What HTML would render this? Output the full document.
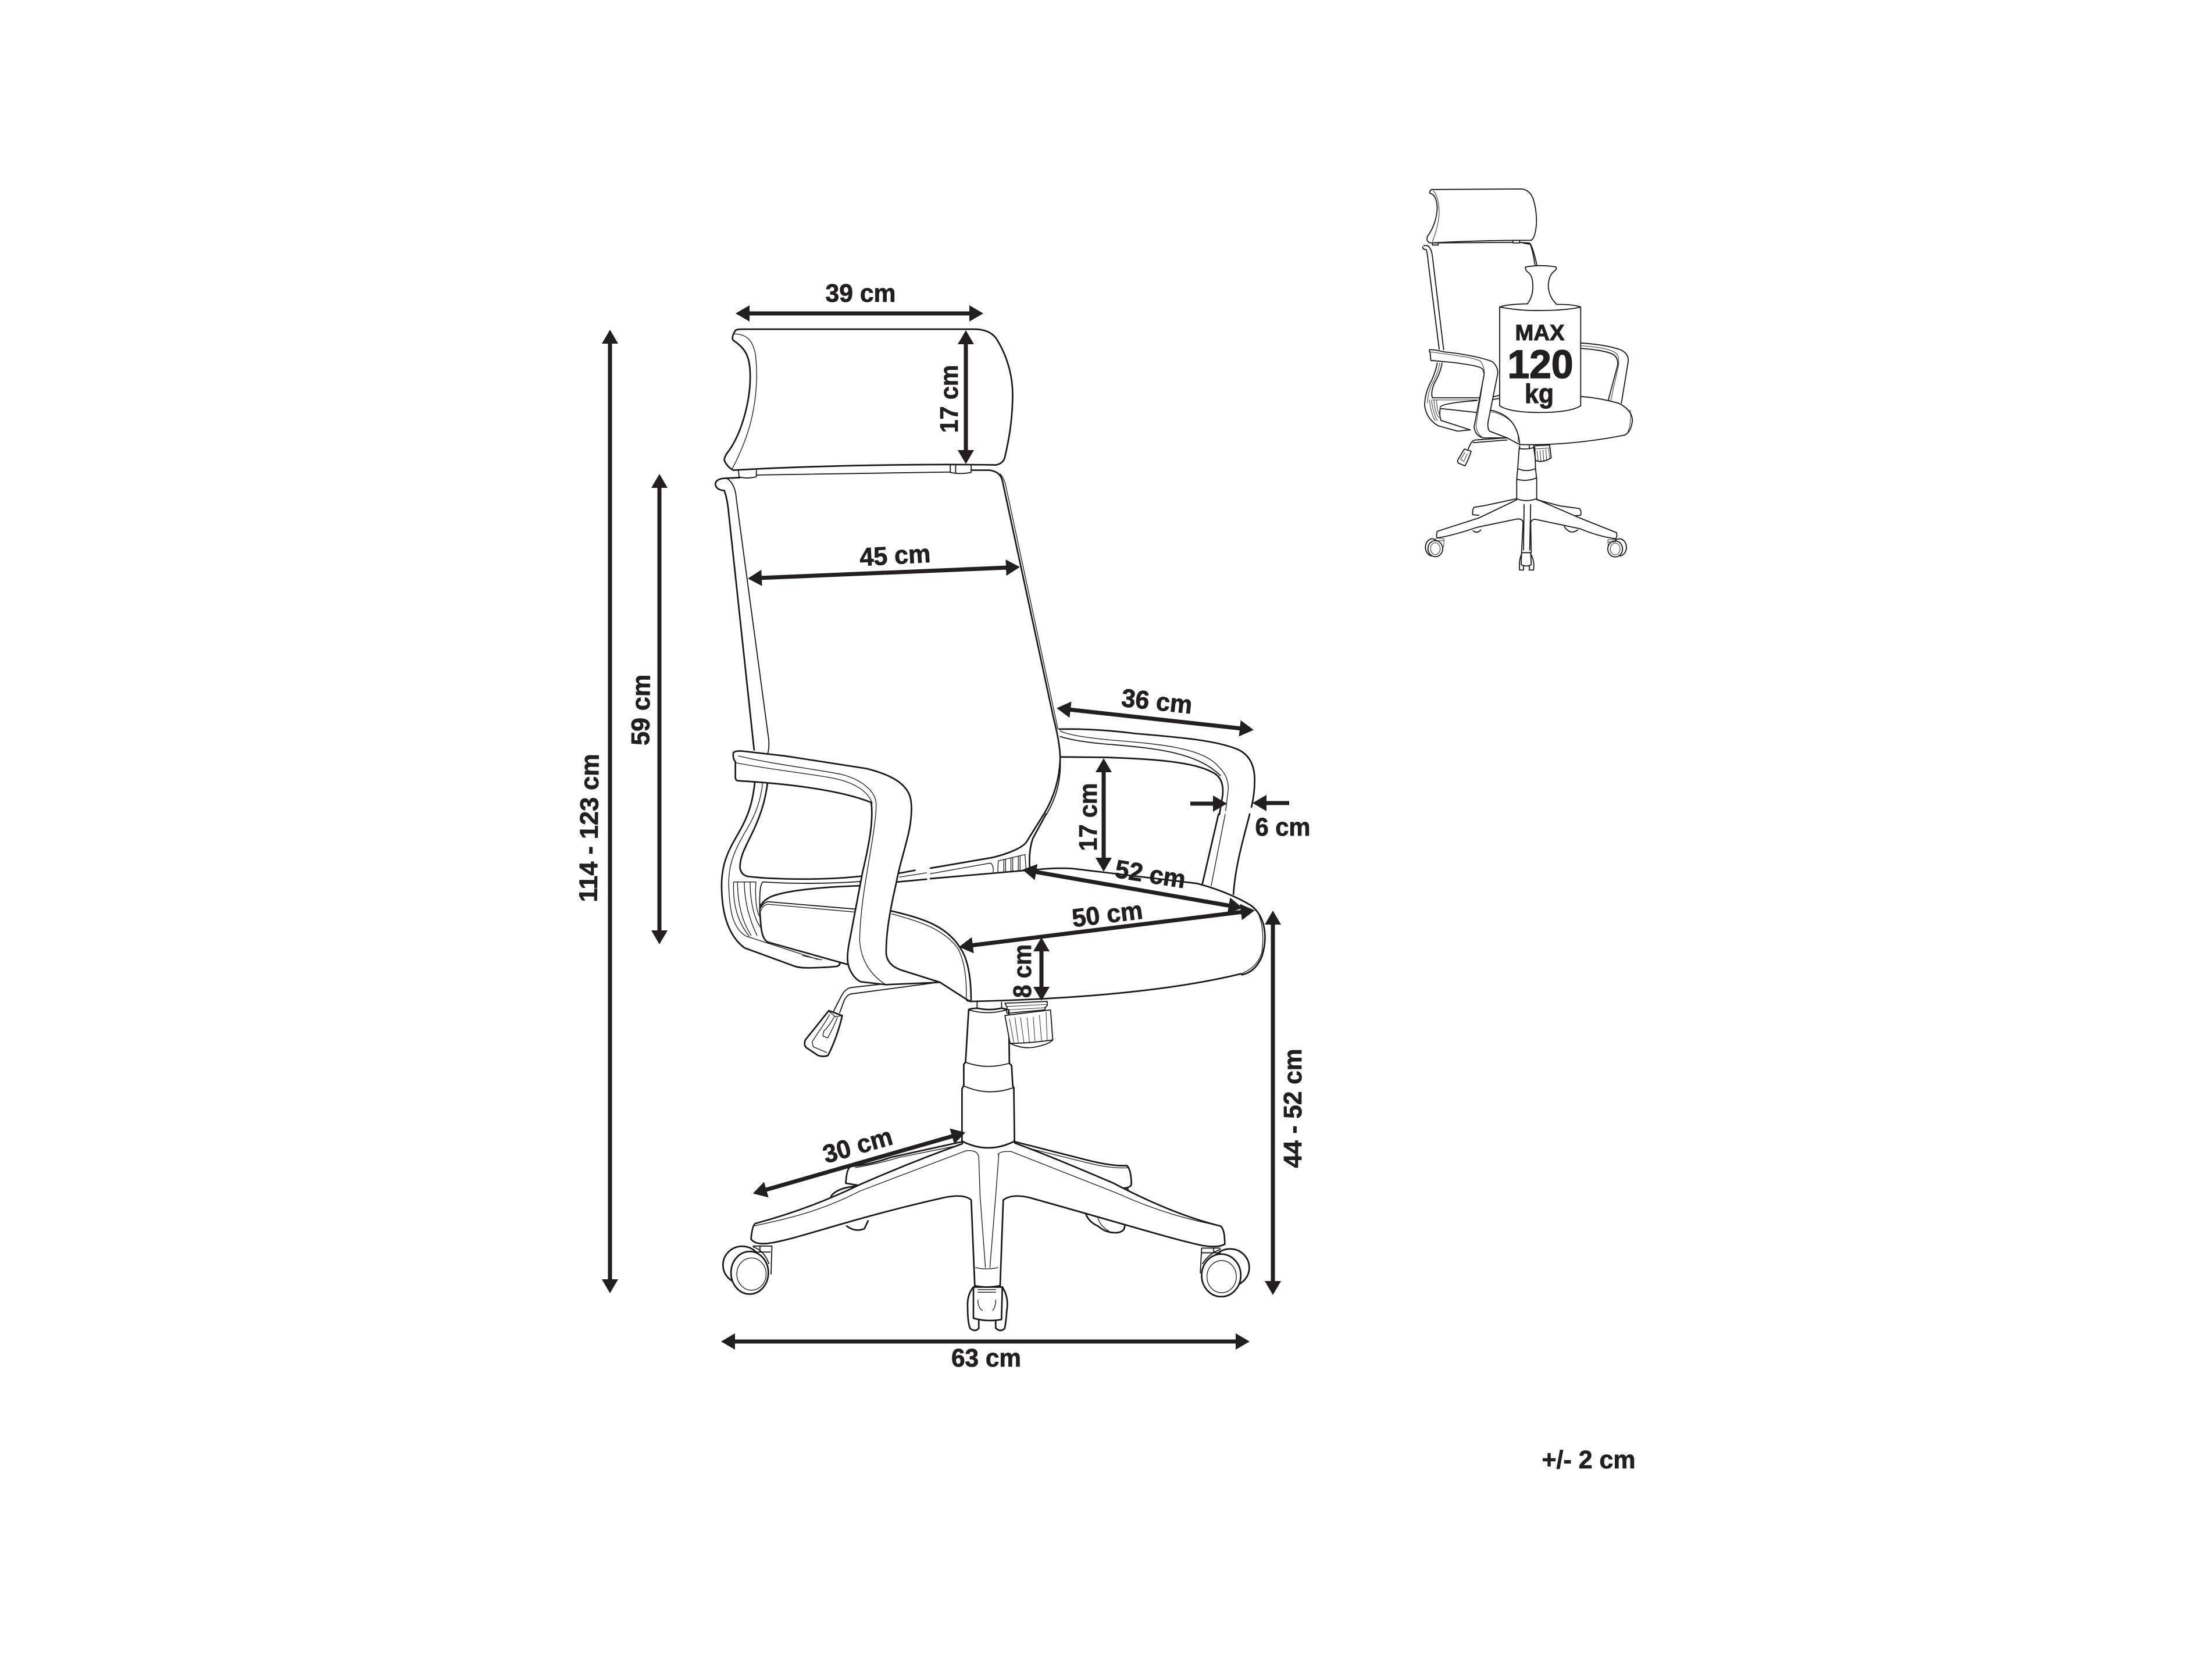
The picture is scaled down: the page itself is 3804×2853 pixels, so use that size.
<!DOCTYPE html>
<html><head><meta charset="utf-8"><style>
html,body{margin:0;padding:0;background:#fff;width:3804px;height:2853px;overflow:hidden}
svg{display:block}
path,ellipse,line{vector-effect:non-scaling-stroke}
.t{fill:none;stroke:#1a1718;stroke-width:2.7;stroke-linejoin:round;stroke-linecap:round}
.w{fill:#fff;stroke:#1a1718;stroke-width:2.7;stroke-linejoin:round;stroke-linecap:round}
.n{fill:none;stroke:#1a1718;stroke-width:1.3;stroke-linejoin:round;stroke-linecap:round}
.s{fill:none;stroke:#1a1718;stroke-width:1.8;stroke-linejoin:round;stroke-linecap:round}
.ws{fill:#fff;stroke:#1a1718;stroke-width:1.8;stroke-linejoin:round;stroke-linecap:round}
.sn{fill:none;stroke:#1a1718;stroke-width:.9;stroke-linejoin:round;stroke-linecap:round}
text{font-family:"Liberation Sans",sans-serif;font-weight:bold;fill:#231f20;stroke:#231f20;stroke-width:.8;text-anchor:middle;font-size:44px}
.a{stroke:#231f20;stroke-width:7;fill:none;marker-end:url(#h);marker-start:url(#h)}
.b{stroke:#231f20;stroke-width:7;fill:none;marker-end:url(#h)}
</style></head><body>
<svg width="3804" height="2853" viewBox="0 0 3804 2853" xmlns="http://www.w3.org/2000/svg">
<defs><marker id="h" viewBox="0 0 24 28" refX="4" refY="14" markerWidth="24" markerHeight="28" orient="auto-start-reverse" markerUnits="userSpaceOnUse"><path d="M0 0L24 14L0 28z" fill="#231f20"/></marker></defs>

<!-- base (zoom3 space) -->
<g transform="translate(1150,1700) scale(.765,.4464)">
  <!-- back casters -->
  <path class="t" d="M365 800Q375 775 405 765L425 760"/>
  <path class="t" d="M400 915Q420 940 440 925L448 895"/>
  <path class="t" d="M938 870Q945 900 965 915Q985 945 1010 940Q1025 935 1025 915"/>
  <path class="n" d="M965 885Q970 915 990 935"/>
  <path class="t" d="M1030 765L1036 790"/>
  <!-- back legs -->
  <path class="w" d="M778 590L950 665Q1000 685 1030 682Q1040 700 1040 755Q1038 770 1010 770L778 640Z"/>
  <path class="n" d="M785 605L950 675Q1000 695 1035 690"/>
  <path class="w" d="M660 590L500 650Q450 680 410 685Q400 690 398 750L440 762L660 640Z"/>
  <path class="n" d="M650 605L520 650Q470 675 420 690"/>
  <!-- casters -->
  <ellipse class="w" cx="165" cy="1065" rx="43" ry="72"/>
  <ellipse class="w" cx="182" cy="1095" rx="42" ry="82"/>
  <ellipse class="n" cx="186" cy="1100" rx="33" ry="62"/>
  <path class="s" d="M190 992L232 992L230 1100M195 1015L228 1015M205 992V1015M190 995Q215 1010 225 1060"/>
  <ellipse class="w" cx="1262" cy="1075" rx="43" ry="72"/>
  <ellipse class="w" cx="1242" cy="1105" rx="44" ry="82"/>
  <ellipse class="n" cx="1243" cy="1110" rx="33" ry="62"/>
  <path class="s" d="M1198 1000L1240 1000M1198 1000L1195 1095M1198 1018L1240 1018M1225 1000V1018M1240 1005Q1215 1020 1200 1060"/>
  <!-- front caster -->
  <path class="t" d="M685 1150Q670 1180 672 1230Q672 1290 678 1310Q690 1325 697 1308L697 1280"/>
  <path class="t" d="M750 1150Q765 1190 760 1240Q758 1290 755 1310Q745 1325 735 1308L735 1280"/>
  <path class="w" d="M685 1150L685 1270Q715 1285 748 1275L750 1150Z"/>
  <path class="n" d="M695 1160H735M695 1170H735M695 1200Q695 1230 705 1240M735 1200Q735 1230 728 1240"/>
  <!-- front arms -->
  <path fill="#fff" d="M660 598Q550 665 430 755C340 830 260 875 195 905Q188 910 185 965Q195 990 230 980C300 960 400 890 620 805Q665 790 680 815L688 1145Q715 1155 745 1145L752 815Q770 790 810 805C1010 900 1130 965 1200 990Q1235 1000 1250 985Q1250 925 1240 915C1180 890 1100 840 1000 750Q850 640 778 595Z"/>
  <path class="t" d="M660 598Q550 665 430 755C340 830 260 875 195 905Q188 910 185 965Q195 990 230 980C300 960 400 890 620 805Q665 790 680 815L688 1145Q715 1155 745 1145L752 815Q770 790 810 805C1010 900 1130 965 1200 990Q1235 1000 1250 985Q1250 925 1240 915C1180 890 1100 840 1000 750Q850 640 778 595"/>
  <path class="n" d="M668 625L430 780C340 860 260 890 190 915"/>
  <path class="n" d="M668 625Q695 620 697 650L700 800L712 1075"/>
  <path class="n" d="M740 640Q745 625 770 628L1010 790C1100 860 1170 890 1240 915"/>
  <path class="n" d="M742 640L735 800L722 1075"/>
  <path class="n" d="M690 1075Q715 1085 740 1075"/>
</g>

<!-- column & seat right (zoom9 space) -->
<g transform="translate(1600,1400) scale(.38265)">
  <path class="w" d="M172 880Q170 875 210 872Q265 885 320 872L352 880L355 1120L365 1130L370 1220L375 1230L378 1470Q260 1530 142 1470L142 1235L150 1220V1125L158 1115Z"/>
  <path class="s" d="M158 1115Q250 1150 355 1120M150 1222Q260 1270 372 1230M172 880Q260 905 340 880"/>
  <path class="s" d="M210 845V875M320 845V872"/>
  <!-- knob -->
  <path class="ws" d="M335 905L540 880L550 1015Q450 1030 358 1030Z"/>
  <path class="s" d="M358 1030Q420 1060 480 1045Q530 1035 550 1015"/>
  <path class="sn" d="M355 920L375 1025M380 915L395 1025M405 915L420 1025M435 915L445 1025M462 912L470 1020M490 905L500 1020M520 890L525 1018"/>
  <path class="s" d="M335 850L525 842V860L515 870V880L345 895L340 880L345 870Z"/>
  <path class="sn" d="M340 865L525 855M345 880L520 870"/>
  <!-- seat -->
  <path fill="#fff" d="M405 255L470 250Q570 240 640 245L1200 312Q1340 350 1440 410Q1480 440 1495 490Q1515 560 1490 640Q1460 710 1400 722L1395 718C1100 790 700 830 180 842L165 838L60 765Q30 745 -50 700L-200 250Z"/>
  <path class="t" d="M405 255L470 250Q570 240 640 245L1200 312Q1340 350 1440 410Q1480 440 1495 490Q1515 560 1490 640Q1460 710 1400 722L1395 718C1100 790 700 830 180 842L165 838"/>
  <path class="n" d="M1465 430Q1505 500 1490 620Q1470 690 1395 718"/>
  <!-- back lower right -->
  <path class="t" d="M0 243L280 195C350 178 420 150 435 120L510 0M447 250Q440 170 460 110L520 0"/>
  <path class="t" d="M405 255L0 290"/>
  <path class="n" d="M0 268L270 220Q285 230 282 260"/>
  <path class="n" d="M303 260L305 210L425 182L430 250M330 258V205M338 258V203M362 258V198M370 258V196M395 255V190M403 255V188"/>
  <!-- right arm lower -->
  <path class="t" d="M1295 0L1222 315M1435 0C1410 100 1370 230 1362 360"/>
  <path class="n" d="M1325 0L1262 322"/>
</g>

<!-- left-lower back/arm (zoom8 space) -->
<g transform="translate(1240,1300) scale(.33333)">
  <path class="t" d="M175 130C165 220 150 290 100 380C50 470 0 540 3 680C5 800 30 920 120 990L380 1085Q410 1095 470 1093Q570 1090 600 1085Q615 1078 612 1070"/>
  <path class="t" d="M240 135C230 230 200 320 150 420C120 480 95 530 98 580Q105 615 140 622C300 640 550 640 725 620"/>
  <path class="n" d="M215 135C205 240 170 320 120 400C70 490 35 560 40 680C45 800 60 890 130 930L500 1050"/>
  <path class="n" d="M65 650H180M65 650C60 750 80 850 145 930M85 650C85 750 105 850 155 925M120 650C120 740 140 830 185 925M150 650C150 760 175 850 205 885M180 650C175 720 180 800 200 830"/>
  <path class="s" d="M200 800C198 720 200 650 220 650C350 660 550 660 720 648"/>
  <path class="t" d="M200 790Q205 750 260 725C350 690 550 675 715 670"/>
  <path class="s" d="M200 790Q215 760 240 752L690 790"/>
  <path class="n" d="M205 800Q215 770 240 765L685 805"/>
  <path class="t" d="M200 800C205 870 205 940 240 960L650 1075"/>
  <path class="n" d="M420 1030L520 1052"/>
  <!-- seat front curve -->
  <path class="t" d="M880 800C1050 840 1170 880 1240 1000Q1290 1080 1290 1265"/>
  <path class="n" d="M880 815C1050 860 1150 900 1220 990Q1270 1080 1265 1255"/>
  <path class="t" d="M1130 1168L1265 1255L1285 1265"/>
  <path class="t" d="M920 605L1000 590M910 650L1060 636"/>
  <path class="n" d="M920 625L1060 603"/>
  <!-- lever -->
  <path class="s" d="M850 1175L670 1195Q640 1200 620 1240L580 1318"/>
  <path class="s" d="M1120 1168L670 1228Q650 1232 635 1262L612 1325"/>
  <!-- handle -->
  <path class="w" d="M556 1314L625 1340C610 1410 580 1490 552 1545Q530 1555 500 1545L440 1505Q425 1490 435 1465Z"/>
  <path class="n" d="M560 1335C530 1390 490 1440 470 1475L475 1500L545 1530M585 1345Q560 1390 530 1420L525 1445L550 1455Q580 1400 600 1350M556 1318L590 1345L625 1340"/>
  <!-- front arm -->
  <path class="w" d="M63 -15Q70 -28 110 -25L330 0L750 65C850 90 950 130 975 210Q990 260 975 360C960 450 920 560 905 650C880 760 850 900 852 1020Q858 1080 930 1105L1130 1168L850 1180L720 1165Q680 1145 660 1090Q645 1050 660 970L730 600C770 430 785 330 775 240C600 170 300 140 85 128Q72 125 74 100L74 30Q60 15 63 -15Z"/>
  <path class="n" d="M90 0C250 40 500 70 620 95C720 120 800 180 800 250L800 270C790 450 720 700 715 950C720 1050 770 1130 850 1180"/>
  <path class="n" d="M75 35C250 70 450 90 580 115C680 135 760 180 780 245"/>
</g>

<!-- upper (zoom1 space) -->
<g transform="translate(1150,450) scale(.765,.638)">
  <!-- headrest -->
  <path class="t" d="M150 185Q155 182 165 182L690 182Q720 183 735 205C760 250 775 310 773 370C772 430 765 480 755 530Q750 545 735 548C600 545 350 548 145 562Q130 552 125 535Q125 525 135 510C165 460 185 370 183 300C182 260 175 235 145 212Q140 205 150 185Z"/>
  <path class="n" d="M148 195C180 195 190 220 195 250C202 320 195 400 175 470Q160 520 142 560"/>
  <path class="s" d="M198 575L634 567M157 564L158 580Q175 586 197 580V563M633 547V568Q655 574 680 568V547M645 548V570"/>
  <!-- back frame -->
  <path class="t" d="M160 582L125 584Q105 586 105 600Q106 615 125 617Q132 640 135 680L192 1316"/>
  <path class="s" d="M132 585Q150 600 152 640L225 1290Q226 1315 222 1328"/>
  <path class="t" d="M680 562L720 562Q745 565 750 590L865 1230Q880 1300 880 1340Q878 1420 843 1490"/>
  <path class="s" d="M880 1340Q884 1420 849 1490"/>
  <path class="n" d="M745 572Q752 580 757 600L875 1260"/>
  <!-- right arm -->
  <path class="t" d="M878 1260Q960 1258 1050 1272C1150 1282 1230 1290 1280 1315Q1315 1335 1317 1390Q1318 1430 1310 1470"/>
  <path class="n" d="M880 1265Q905 1280 1000 1290C1100 1300 1200 1310 1235 1360Q1258 1385 1258 1420L1252 1480"/>
  <path class="s" d="M880 1280Q920 1295 1000 1302C1100 1312 1190 1325 1240 1385"/>
  <path class="t" d="M880 1335L975 1336C1100 1340 1180 1350 1220 1375Q1250 1390 1245 1440L1238 1490"/>
</g>

<!-- dimension arrows -->
<line class="a" x1="1285" y1="539" x2="1671" y2="539"/>
<line class="a" x1="1661" y1="588" x2="1661" y2="778"/>
<line class="a" x1="1306" y1="994" x2="1734" y2="976"/>
<line class="a" x1="1837" y1="1220" x2="2136" y2="1253"/>
<line class="b" x1="2047" y1="1382" x2="2090" y2="1382"/>
<line class="b" x1="2217" y1="1381" x2="2174" y2="1381"/>
<line class="a" x1="1898" y1="1324" x2="1898" y2="1479"/>
<line class="a" x1="1778" y1="1499" x2="2117" y2="1558"/>
<line class="a" x1="1669" y1="1626" x2="2138" y2="1568"/>
<line class="a" x1="1791" y1="1632" x2="1791" y2="1701"/>
<line class="a" x1="2189" y1="1586" x2="2189" y2="2207"/>
<line class="a" x1="1314" y1="2047" x2="1641" y2="1953"/>
<line class="a" x1="1260" y1="2307" x2="2129" y2="2307"/>
<line class="a" x1="1049" y1="587" x2="1049" y2="2204"/>
<line class="a" x1="1134" y1="835" x2="1134" y2="1604"/>

<!-- labels -->
<text x="1480" y="519" textLength="121" lengthAdjust="spacingAndGlyphs">39 cm</text>
<text transform="translate(1647,686) rotate(-90)" textLength="117" lengthAdjust="spacingAndGlyphs">17 cm</text>
<text transform="translate(1540,970) rotate(-3)" textLength="122" lengthAdjust="spacingAndGlyphs">45 cm</text>
<text transform="translate(1988,1221) rotate(6)" textLength="122" lengthAdjust="spacingAndGlyphs">36 cm</text>
<text x="2206" y="1437" textLength="95" lengthAdjust="spacingAndGlyphs">6 cm</text>
<text transform="translate(1886,1405) rotate(-90)" textLength="117" lengthAdjust="spacingAndGlyphs">17 cm</text>
<text transform="translate(1976,1518) rotate(9)" textLength="122" lengthAdjust="spacingAndGlyphs">52 cm</text>
<text transform="translate(1906,1587) rotate(-7)" textLength="122" lengthAdjust="spacingAndGlyphs">50 cm</text>
<text transform="translate(1773,1670) rotate(-90)" textLength="92" lengthAdjust="spacingAndGlyphs">8 cm</text>
<text transform="translate(2238,1906) rotate(-90)" textLength="205" lengthAdjust="spacingAndGlyphs">44 - 52 cm</text>
<text transform="translate(1479,1984) rotate(-16)" textLength="122" lengthAdjust="spacingAndGlyphs">30 cm</text>
<text x="1696" y="2350" textLength="120" lengthAdjust="spacingAndGlyphs">63 cm</text>
<text transform="translate(1028,1424) rotate(-89.3)" textLength="255" lengthAdjust="spacingAndGlyphs">114 - 123 cm</text>
<text transform="translate(1117,1221) rotate(-89.3)" textLength="122" lengthAdjust="spacingAndGlyphs">59 cm</text>
<text x="2732" y="2525" textLength="161" lengthAdjust="spacingAndGlyphs">+/- 2 cm</text>

<!-- thumbnail (zoom4 space) -->
<g transform="translate(2400,280) scale(.3333,.4592)">
  <path class="s" d="M185 100L650 98Q690 100 710 135Q728 175 727 225Q722 280 700 290Q450 290 180 300Q155 295 165 275Q210 230 215 170Q212 120 180 115Q170 110 185 100Z"/>
  <path class="sn" d="M195 105Q225 130 225 190Q220 240 190 295"/>
  <path class="s" d="M190 300L600 298M605 292V300H640V292M190 300V308H220V300"/>
  <path class="s" d="M640 298L690 300Q705 305 730 385M655 300L695 305Q708 330 720 385"/>
  <path class="s" d="M145 310L165 310Q185 320 190 350L248 700"/>
  <path class="s" d="M140 315Q140 325 158 325Q165 340 168 370L225 698"/>
  <!-- back lower -->
  <path class="s" d="M215 750Q205 790 175 830Q150 870 150 910Q160 960 220 985L320 1005L385 1000"/>
  <path class="s" d="M240 750Q230 790 200 825Q180 860 190 880L430 880"/>
  <path class="sn" d="M228 750Q218 790 190 825Q165 860 165 900"/>
  <path class="sn" d="M190 888L425 888M175 888C180 920 190 950 205 965M185 888C190 915 200 945 215 965M198 888C200 915 210 945 225 955M212 888C212 915 218 935 230 945"/>
  <path class="s" d="M230 915Q240 900 420 890M230 920L420 935M230 920Q225 950 235 965L385 1000"/>
  <!-- right arm -->
  <path class="s" d="M955 675Q1080 680 1160 700Q1205 715 1200 745L1165 900"/>
  <path class="sn" d="M955 685C1060 690 1130 700 1145 720Q1155 735 1150 760L1110 890"/>
  <path class="s" d="M955 695C1050 700 1120 710 1135 725Q1150 740 1145 760L1097 890"/>
  <!-- seat -->
  <path class="s" d="M955 875Q1050 880 1150 900Q1220 925 1222 965Q1215 1010 1180 1020Q900 1060 640 1055L575 1030"/>
  <path class="sn" d="M1210 925Q1220 970 1195 1015"/>
  <path class="s" d="M480 925C570 935 630 975 640 1050"/>
  <path class="sn" d="M490 932Q590 945 625 1000Q635 1020 632 1045"/>
  <path class="s" d="M495 878L540 870M490 888L540 882"/>
  <!-- lever -->
  <path class="s" d="M575 1030L410 1038Q390 1040 375 1072M400 1048L575 1038"/>
  <path class="ws" d="M355 1072L390 1080Q380 1105 358 1135L325 1125Q315 1118 325 1108Z"/>
  <path class="sn" d="M358 1085L335 1110L352 1118L370 1090"/>
  <!-- left arm -->
  <path class="ws" d="M175 700Q190 698 250 708C350 715 450 730 500 745Q530 765 527 790Q510 850 480 960Q470 990 485 1005L575 1030L450 1030Q410 1020 405 990L455 800Q460 780 445 770Q430 760 300 748L182 740L178 710Q172 705 175 700Z"/>
  <path class="sn" d="M178 708C300 720 420 730 440 745Q460 765 457 790L415 985Q420 1015 450 1030"/>
  <!-- column -->
  <path class="s" d="M640 1060V1068M690 1060V1068"/>
  <path class="s" d="M640 1070Q680 1075 718 1065L722 1145L728 1185V1258Q675 1272 625 1258V1185L630 1145L638 1068Z"/>
  <path class="s" d="M630 1145Q675 1160 722 1145M625 1185Q675 1195 728 1180"/>
  <!-- knob -->
  <path class="s" d="M712 1060L795 1057L803 1105Q760 1125 722 1115Z"/>
  <path class="sn" d="M712 1072L795 1068M730 1080L735 1115M745 1078L750 1118M760 1076L765 1118M775 1074L780 1115M790 1072L795 1110"/>
  <!-- base -->
  <path class="s" d="M625 1258L450 1285L405 1290Q395 1300 398 1318L430 1320M730 1262L850 1285L950 1295Q960 1305 955 1320L925 1322"/>
  <path class="s" d="M625 1262L430 1330L215 1380Q208 1400 215 1405Q300 1395 420 1365L620 1335Q650 1330 658 1345L650 1460"/>
  <path class="s" d="M663 1280L660 1450M697 1280L692 1450"/>
  <path class="s" d="M728 1260L950 1330L1140 1385Q1145 1400 1135 1408Q1050 1400 950 1370L720 1335Q700 1335 697 1350L700 1460"/>
  <path class="s" d="M400 1378Q420 1390 440 1375M870 1362Q900 1395 940 1375"/>
  <!-- casters -->
  <ellipse class="s" cx="190" cy="1440" rx="36" ry="32"/>
  <ellipse class="ws" cx="205" cy="1445" rx="38" ry="30"/>
  <ellipse class="sn" cx="205" cy="1445" rx="25" ry="22"/>
  <path class="sn" d="M210 1405L250 1408L248 1440M215 1415H250"/>
  <ellipse class="s" cx="1155" cy="1440" rx="36" ry="32"/>
  <ellipse class="ws" cx="1133" cy="1446" rx="38" ry="30"/>
  <ellipse class="sn" cx="1133" cy="1446" rx="25" ry="22"/>
  <path class="sn" d="M1095 1412L1135 1410M1095 1412L1097 1440M1097 1420H1135"/>
  <path class="s" d="M650 1465Q635 1490 640 1525H660V1510M697 1465Q718 1490 712 1525H690V1510"/>
  <path class="ws" d="M650 1460H697L700 1505Q675 1515 648 1505Z"/>
  <!-- weight -->
  <path class="ws" d="M670 390Q750 380 828 390Q832 400 820 405Q790 420 788 460Q790 500 825 525L830 530Q920 530 955 540L955 910Q900 935 745 935Q590 935 537 910L537 540Q570 530 680 528Q710 500 708 460Q708 420 680 408Q668 400 670 390Z"/>
  <path class="s" d="M537 540Q650 555 745 553Q880 553 955 540"/>
</g>
<text x="2648" y="585" style="font-size:38px;stroke-width:1" textLength="85" lengthAdjust="spacingAndGlyphs">MAX</text>
<text x="2649" y="650" style="font-size:69px;stroke-width:1.5" textLength="113" lengthAdjust="spacingAndGlyphs">120</text>
<text x="2647" y="693" style="font-size:46px;stroke-width:1" textLength="50" lengthAdjust="spacingAndGlyphs">kg</text>
</svg>
</body></html>
